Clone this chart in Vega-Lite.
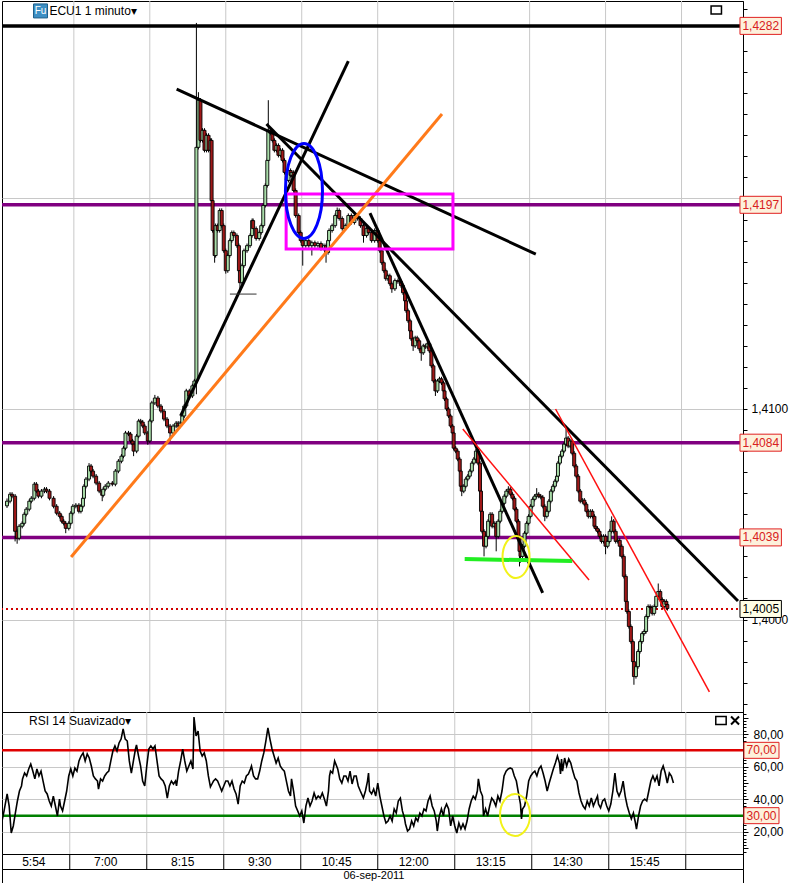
{
"$schema": "https://vega.github.io/schema/vega-lite/v6.json",
"padding": 0,
"spacing": 0,
"bounds": "flush",
"background": "white",
"config": {"view": {"stroke": "#000000", "strokeWidth": 1}, "font": "Liberation Sans", "axis": {"labelFont": "Liberation Sans", "labelFontSize": 12, "labelColor": "#000000", "domainColor": "#000000", "tickColor": "#000000", "labelOverlap": false, "labelFlush": false}},
"datasets": {
"grid": [{"t":66},{"t":141},{"t":216},{"t":291},{"t":366},{"t":441},{"t":516},{"t":591},{"t":666}],
"timeLabels": [{"t":31,"label":"5:54"},{"t":101,"label":"7:00"},{"t":176,"label":"8:15"},{"t":251,"label":"9:30"},{"t":326,"label":"10:45"},{"t":401,"label":"12:00"},{"t":476,"label":"13:15"},{"t":551,"label":"14:30"},{"t":626,"label":"15:45"}],
"levels": [{"p":1.4282,"label":"1,4282"},{"p":1.4197,"label":"1,4197"},{"p":1.4084,"label":"1,4084"},{"p":1.4039,"label":"1,4039"}],
"lastPrice": [{"p":1.4005,"label":"1,4005"}],
"trends": [
{"name":"res","t1":167.5,"p1":1.4252,"t2":522.1,"p2":1.41736},
{"name":"long","t1":256.2,"p1":1.42354,"t2":721.75,"p2":1.40088},
{"name":"up","t1":171.4,"p1":1.40967,"t2":337.0,"p2":1.42653},
{"name":"steep","t1":358.4,"p1":1.41931,"t2":528.9,"p2":1.40126},
{"name":"orange","t1":63.3,"p1":1.40297,"t2":429.5,"p2":1.42401},
{"name":"red1","t1":450.0,"p1":1.40905,"t2":574.7,"p2":1.40188},
{"name":"red2","t1":541.6,"p1":1.41,"t2":693.5,"p2":1.39656},
{"name":"green","t1":451.9,"p1":1.40287,"t2":558.1,"p2":1.40278},
{"name":"small","t1":220.1,"p1":1.41546,"t2":246.4,"p2":1.41546}],
"box": [{"t1":275.6,"p1":1.42021,"t2":440.3,"p2":1.4176}],
"blueEllipse": [{"t":293.2,"p":1.42036}],
"yellowMain": [{"t":502.6,"p":1.40297}],
"yellowRsi": [{"t":499.7,"v":30.4}],
"rsiLevels": [{"v":70,"label":"70,00"},{"v":30,"label":"30,00"}],
"candles": [
{"t":0,"o":1.4054,"h":1.40575,"l":1.4053,"c":1.40562},
{"t":3,"o":1.40562,"h":1.40605,"l":1.40552,"c":1.40595},
{"t":5,"o":1.40595,"h":1.40605,"l":1.40576,"c":1.40586},
{"t":8,"o":1.40586,"h":1.40596,"l":1.40371,"c":1.40419},
{"t":10,"o":1.40419,"h":1.40429,"l":1.4036,"c":1.40386},
{"t":12,"o":1.40386,"h":1.40453,"l":1.40376,"c":1.40443},
{"t":15,"o":1.40443,"h":1.40467,"l":1.40433,"c":1.40457},
{"t":17,"o":1.40457,"h":1.4051,"l":1.40447,"c":1.405},
{"t":19,"o":1.405,"h":1.40534,"l":1.4049,"c":1.40524},
{"t":22,"o":1.40524,"h":1.40572,"l":1.40514,"c":1.40562},
{"t":24,"o":1.40562,"h":1.40586,"l":1.40552,"c":1.40576},
{"t":27,"o":1.40576,"h":1.40653,"l":1.40566,"c":1.40643},
{"t":29,"o":1.40643,"h":1.40653,"l":1.406,"c":1.4061},
{"t":31,"o":1.4061,"h":1.4062,"l":1.40576,"c":1.40586},
{"t":34,"o":1.40586,"h":1.4062,"l":1.40576,"c":1.4061},
{"t":37,"o":1.4061,"h":1.40629,"l":1.406,"c":1.40619},
{"t":39,"o":1.40619,"h":1.40629,"l":1.406,"c":1.4061},
{"t":42,"o":1.4061,"h":1.4062,"l":1.40566,"c":1.40576},
{"t":46,"o":1.40576,"h":1.40586,"l":1.40528,"c":1.40538},
{"t":49,"o":1.40538,"h":1.40548,"l":1.40495,"c":1.40505},
{"t":52,"o":1.40505,"h":1.40515,"l":1.4048,"c":1.4049},
{"t":54,"o":1.4049,"h":1.405,"l":1.40457,"c":1.40467},
{"t":56,"o":1.40467,"h":1.40477,"l":1.40447,"c":1.40457},
{"t":58,"o":1.40457,"h":1.40467,"l":1.4041,"c":1.40433},
{"t":61,"o":1.40433,"h":1.40467,"l":1.40423,"c":1.40457},
{"t":63,"o":1.40457,"h":1.40515,"l":1.40447,"c":1.40505},
{"t":65,"o":1.40505,"h":1.40548,"l":1.40495,"c":1.40538},
{"t":68,"o":1.40538,"h":1.40553,"l":1.40528,"c":1.40543},
{"t":71,"o":1.40543,"h":1.40553,"l":1.40504,"c":1.40514},
{"t":73,"o":1.40514,"h":1.40548,"l":1.40504,"c":1.40538},
{"t":75,"o":1.40538,"h":1.40586,"l":1.40528,"c":1.40576},
{"t":76,"o":1.40576,"h":1.40643,"l":1.40566,"c":1.40633},
{"t":78,"o":1.40633,"h":1.40677,"l":1.40623,"c":1.40667},
{"t":81,"o":1.40667,"h":1.40743,"l":1.40657,"c":1.40729},
{"t":83,"o":1.40729,"h":1.40739,"l":1.40695,"c":1.40705},
{"t":85,"o":1.40705,"h":1.40715,"l":1.40671,"c":1.40681},
{"t":88,"o":1.40681,"h":1.40691,"l":1.40638,"c":1.40648},
{"t":91,"o":1.40648,"h":1.40658,"l":1.406,"c":1.4061},
{"t":94,"o":1.4061,"h":1.4062,"l":1.40562,"c":1.4059},
{"t":95,"o":1.4059,"h":1.40629,"l":1.4058,"c":1.40619},
{"t":97,"o":1.40619,"h":1.40643,"l":1.40609,"c":1.40633},
{"t":100,"o":1.40633,"h":1.40658,"l":1.40623,"c":1.40648},
{"t":104,"o":1.40648,"h":1.40658,"l":1.40633,"c":1.40643},
{"t":107,"o":1.40643,"h":1.40715,"l":1.40633,"c":1.40705},
{"t":110,"o":1.40705,"h":1.40762,"l":1.40695,"c":1.40752},
{"t":113,"o":1.40752,"h":1.40786,"l":1.40742,"c":1.40776},
{"t":115,"o":1.40776,"h":1.40824,"l":1.40766,"c":1.40814},
{"t":117,"o":1.40814,"h":1.40896,"l":1.40804,"c":1.40886},
{"t":120,"o":1.40886,"h":1.40896,"l":1.40871,"c":1.40881},
{"t":122,"o":1.40881,"h":1.40891,"l":1.40838,"c":1.40848},
{"t":124,"o":1.40848,"h":1.40858,"l":1.40823,"c":1.40833},
{"t":125,"o":1.40833,"h":1.40843,"l":1.40776,"c":1.408},
{"t":128,"o":1.408,"h":1.40881,"l":1.4079,"c":1.40871},
{"t":130,"o":1.40871,"h":1.40953,"l":1.40861,"c":1.40943},
{"t":132,"o":1.40943,"h":1.40953,"l":1.40928,"c":1.40938},
{"t":134,"o":1.40938,"h":1.40948,"l":1.40909,"c":1.40919},
{"t":136,"o":1.40919,"h":1.40929,"l":1.40876,"c":1.40886},
{"t":139,"o":1.40886,"h":1.40896,"l":1.4083,"c":1.40848},
{"t":141,"o":1.40848,"h":1.40953,"l":1.40838,"c":1.40943},
{"t":143,"o":1.40943,"h":1.41039,"l":1.40933,"c":1.41029},
{"t":146,"o":1.41029,"h":1.41067,"l":1.41019,"c":1.41052},
{"t":149,"o":1.41052,"h":1.41062,"l":1.41004,"c":1.41014},
{"t":152,"o":1.41014,"h":1.41024,"l":1.4098,"c":1.4099},
{"t":155,"o":1.4099,"h":1.41,"l":1.40942,"c":1.40952},
{"t":158,"o":1.40952,"h":1.40962,"l":1.40909,"c":1.40919},
{"t":161,"o":1.40919,"h":1.40929,"l":1.40848,"c":1.40886},
{"t":164,"o":1.40886,"h":1.40929,"l":1.40876,"c":1.40919},
{"t":167,"o":1.40919,"h":1.40943,"l":1.40909,"c":1.40933},
{"t":169,"o":1.40933,"h":1.40943,"l":1.40909,"c":1.40919},
{"t":171,"o":1.40919,"h":1.40943,"l":1.40909,"c":1.40933},
{"t":173,"o":1.40933,"h":1.40977,"l":1.40923,"c":1.40967},
{"t":175,"o":1.40967,"h":1.41024,"l":1.40957,"c":1.41014},
{"t":177,"o":1.41014,"h":1.41096,"l":1.41004,"c":1.41086},
{"t":180,"o":1.41086,"h":1.41096,"l":1.41052,"c":1.41062},
{"t":183,"o":1.41062,"h":1.4112,"l":1.41052,"c":1.4111},
{"t":185,"o":1.4111,"h":1.41143,"l":1.411,"c":1.41133},
{"t":187,"o":1.41133,"h":1.42834,"l":1.4107,"c":1.42243},
{"t":189,"o":1.42243,"h":1.42505,"l":1.42233,"c":1.42467},
{"t":191,"o":1.42467,"h":1.42477,"l":1.42266,"c":1.42276},
{"t":193,"o":1.42276,"h":1.42334,"l":1.42266,"c":1.42324},
{"t":195,"o":1.42324,"h":1.42334,"l":1.42219,"c":1.42229},
{"t":197,"o":1.42229,"h":1.4231,"l":1.42219,"c":1.423},
{"t":199,"o":1.423,"h":1.4231,"l":1.42219,"c":1.42229},
{"t":201,"o":1.42229,"h":1.42286,"l":1.42219,"c":1.42276},
{"t":202,"o":1.42276,"h":1.42286,"l":1.4198,"c":1.4199},
{"t":203,"o":1.4199,"h":1.42,"l":1.41838,"c":1.41848},
{"t":205,"o":1.41848,"h":1.41858,"l":1.41695,"c":1.41729},
{"t":206,"o":1.41729,"h":1.41881,"l":1.41719,"c":1.41871},
{"t":208,"o":1.41871,"h":1.41881,"l":1.41838,"c":1.41848},
{"t":210,"o":1.41848,"h":1.41953,"l":1.41838,"c":1.41943},
{"t":212,"o":1.41943,"h":1.41953,"l":1.41861,"c":1.41871},
{"t":214,"o":1.41871,"h":1.41881,"l":1.41742,"c":1.41752},
{"t":216,"o":1.41752,"h":1.41762,"l":1.41643,"c":1.41657},
{"t":218,"o":1.41657,"h":1.41739,"l":1.41647,"c":1.41729},
{"t":220,"o":1.41729,"h":1.4181,"l":1.41719,"c":1.418},
{"t":222,"o":1.418,"h":1.41848,"l":1.4179,"c":1.41838},
{"t":224,"o":1.41838,"h":1.41848,"l":1.41814,"c":1.41824},
{"t":227,"o":1.41824,"h":1.41834,"l":1.41766,"c":1.41776},
{"t":229,"o":1.41776,"h":1.41786,"l":1.41647,"c":1.41657},
{"t":230,"o":1.41657,"h":1.41667,"l":1.41562,"c":1.416},
{"t":232,"o":1.416,"h":1.41691,"l":1.4159,"c":1.41681},
{"t":234,"o":1.41681,"h":1.41762,"l":1.41671,"c":1.41752},
{"t":237,"o":1.41752,"h":1.41786,"l":1.41742,"c":1.41776},
{"t":240,"o":1.41776,"h":1.41834,"l":1.41766,"c":1.41824},
{"t":242,"o":1.41824,"h":1.41905,"l":1.41814,"c":1.41895},
{"t":243,"o":1.41895,"h":1.41905,"l":1.41847,"c":1.41857},
{"t":246,"o":1.41857,"h":1.41867,"l":1.418,"c":1.4181},
{"t":249,"o":1.4181,"h":1.41848,"l":1.418,"c":1.41838},
{"t":251,"o":1.41838,"h":1.41881,"l":1.41828,"c":1.41871},
{"t":253,"o":1.41871,"h":1.41977,"l":1.41861,"c":1.41967},
{"t":255,"o":1.41967,"h":1.42072,"l":1.41957,"c":1.42062},
{"t":257,"o":1.42062,"h":1.42191,"l":1.42052,"c":1.42181},
{"t":258,"o":1.42181,"h":1.42467,"l":1.42171,"c":1.42324},
{"t":260,"o":1.42324,"h":1.4234,"l":1.423,"c":1.4231},
{"t":262,"o":1.4231,"h":1.4232,"l":1.42266,"c":1.42276},
{"t":264,"o":1.42276,"h":1.42286,"l":1.42219,"c":1.42229},
{"t":266,"o":1.42229,"h":1.42262,"l":1.42219,"c":1.42252},
{"t":268,"o":1.42252,"h":1.42262,"l":1.42195,"c":1.42205},
{"t":270,"o":1.42205,"h":1.42239,"l":1.42195,"c":1.42229},
{"t":272,"o":1.42229,"h":1.42239,"l":1.42171,"c":1.42181},
{"t":274,"o":1.42181,"h":1.42191,"l":1.42114,"c":1.42124},
{"t":276,"o":1.42124,"h":1.42134,"l":1.42076,"c":1.42086},
{"t":278,"o":1.42086,"h":1.42143,"l":1.42076,"c":1.42133},
{"t":280,"o":1.42133,"h":1.42143,"l":1.421,"c":1.4211},
{"t":281,"o":1.4211,"h":1.42134,"l":1.421,"c":1.42124},
{"t":283,"o":1.42124,"h":1.42134,"l":1.42028,"c":1.42038},
{"t":285,"o":1.42038,"h":1.42048,"l":1.41909,"c":1.41919},
{"t":288,"o":1.41919,"h":1.41929,"l":1.41828,"c":1.41838},
{"t":290,"o":1.41838,"h":1.41848,"l":1.4179,"c":1.418},
{"t":292,"o":1.418,"h":1.4181,"l":1.41681,"c":1.41776},
{"t":295,"o":1.41776,"h":1.4181,"l":1.41766,"c":1.418},
{"t":298,"o":1.418,"h":1.4181,"l":1.41766,"c":1.41776},
{"t":301,"o":1.41776,"h":1.418,"l":1.41729,"c":1.4179},
{"t":304,"o":1.4179,"h":1.418,"l":1.41766,"c":1.41776},
{"t":307,"o":1.41776,"h":1.41796,"l":1.41766,"c":1.41786},
{"t":310,"o":1.41786,"h":1.41796,"l":1.41752,"c":1.41762},
{"t":313,"o":1.41762,"h":1.41786,"l":1.41752,"c":1.41776},
{"t":315,"o":1.41776,"h":1.41786,"l":1.41695,"c":1.41743},
{"t":317,"o":1.41743,"h":1.4181,"l":1.41733,"c":1.418},
{"t":318,"o":1.418,"h":1.41858,"l":1.4179,"c":1.41848},
{"t":321,"o":1.41848,"h":1.41881,"l":1.41838,"c":1.41871},
{"t":324,"o":1.41871,"h":1.41929,"l":1.41861,"c":1.41919},
{"t":326,"o":1.41919,"h":1.41957,"l":1.41909,"c":1.41943},
{"t":328,"o":1.41943,"h":1.41953,"l":1.41895,"c":1.41905},
{"t":331,"o":1.41905,"h":1.41915,"l":1.41847,"c":1.41857},
{"t":334,"o":1.41857,"h":1.41881,"l":1.41847,"c":1.41871},
{"t":337,"o":1.41871,"h":1.41929,"l":1.41861,"c":1.41919},
{"t":340,"o":1.41919,"h":1.41929,"l":1.41876,"c":1.41886},
{"t":343,"o":1.41886,"h":1.41929,"l":1.41876,"c":1.41919},
{"t":346,"o":1.41919,"h":1.41929,"l":1.41895,"c":1.41905},
{"t":349,"o":1.41905,"h":1.41915,"l":1.41861,"c":1.41871},
{"t":352,"o":1.41871,"h":1.41881,"l":1.4179,"c":1.41824},
{"t":355,"o":1.41824,"h":1.41867,"l":1.41814,"c":1.41857},
{"t":357,"o":1.41857,"h":1.41867,"l":1.41828,"c":1.41838},
{"t":360,"o":1.41838,"h":1.41848,"l":1.4179,"c":1.418},
{"t":363,"o":1.418,"h":1.41858,"l":1.4179,"c":1.41848},
{"t":366,"o":1.41848,"h":1.41858,"l":1.4179,"c":1.418},
{"t":368,"o":1.418,"h":1.4181,"l":1.41742,"c":1.41752},
{"t":370,"o":1.41752,"h":1.41762,"l":1.41685,"c":1.41695},
{"t":372,"o":1.41695,"h":1.41705,"l":1.41647,"c":1.41657},
{"t":374,"o":1.41657,"h":1.41667,"l":1.41609,"c":1.41619},
{"t":376,"o":1.41619,"h":1.41643,"l":1.41609,"c":1.41633},
{"t":378,"o":1.41633,"h":1.41643,"l":1.41585,"c":1.41595},
{"t":380,"o":1.41595,"h":1.41605,"l":1.41552,"c":1.41571},
{"t":383,"o":1.41571,"h":1.4162,"l":1.41561,"c":1.4161},
{"t":386,"o":1.4161,"h":1.4162,"l":1.41595,"c":1.41605},
{"t":389,"o":1.41605,"h":1.41615,"l":1.41576,"c":1.41586},
{"t":391,"o":1.41586,"h":1.41596,"l":1.41542,"c":1.41552},
{"t":393,"o":1.41552,"h":1.41562,"l":1.41504,"c":1.41514},
{"t":394,"o":1.41514,"h":1.41524,"l":1.41457,"c":1.41467},
{"t":396,"o":1.41467,"h":1.41477,"l":1.41409,"c":1.41419},
{"t":398,"o":1.41419,"h":1.41429,"l":1.41361,"c":1.41371},
{"t":399,"o":1.41371,"h":1.41381,"l":1.41323,"c":1.41333},
{"t":401,"o":1.41333,"h":1.41343,"l":1.41276,"c":1.413},
{"t":403,"o":1.413,"h":1.41348,"l":1.4129,"c":1.41338},
{"t":405,"o":1.41338,"h":1.41348,"l":1.41314,"c":1.41324},
{"t":407,"o":1.41324,"h":1.41334,"l":1.41276,"c":1.41286},
{"t":409,"o":1.41286,"h":1.41296,"l":1.41229,"c":1.41267},
{"t":411,"o":1.41267,"h":1.4131,"l":1.41257,"c":1.413},
{"t":413,"o":1.413,"h":1.4131,"l":1.41285,"c":1.41295},
{"t":415,"o":1.41295,"h":1.4132,"l":1.41285,"c":1.4131},
{"t":417,"o":1.4131,"h":1.4132,"l":1.41266,"c":1.41276},
{"t":419,"o":1.41276,"h":1.41286,"l":1.41195,"c":1.41205},
{"t":421,"o":1.41205,"h":1.41215,"l":1.41123,"c":1.41133},
{"t":423,"o":1.41133,"h":1.41143,"l":1.41062,"c":1.41086},
{"t":425,"o":1.41086,"h":1.41143,"l":1.41076,"c":1.41133},
{"t":427,"o":1.41133,"h":1.41153,"l":1.41123,"c":1.41143},
{"t":429,"o":1.41143,"h":1.41153,"l":1.41114,"c":1.41124},
{"t":431,"o":1.41124,"h":1.41134,"l":1.41076,"c":1.41086},
{"t":432,"o":1.41086,"h":1.41096,"l":1.41038,"c":1.41048},
{"t":434,"o":1.41048,"h":1.41058,"l":1.4099,"c":1.41},
{"t":436,"o":1.41,"h":1.4101,"l":1.40957,"c":1.40967},
{"t":438,"o":1.40967,"h":1.40977,"l":1.40909,"c":1.40919},
{"t":440,"o":1.40919,"h":1.40929,"l":1.40876,"c":1.40886},
{"t":441,"o":1.40886,"h":1.40896,"l":1.40804,"c":1.40814},
{"t":443,"o":1.40814,"h":1.40824,"l":1.4079,"c":1.408},
{"t":445,"o":1.408,"h":1.4081,"l":1.40752,"c":1.40762},
{"t":447,"o":1.40762,"h":1.40772,"l":1.40695,"c":1.40705},
{"t":448,"o":1.40705,"h":1.40715,"l":1.40623,"c":1.40633},
{"t":449,"o":1.40633,"h":1.40643,"l":1.40586,"c":1.4061},
{"t":451,"o":1.4061,"h":1.40643,"l":1.406,"c":1.40633},
{"t":453,"o":1.40633,"h":1.40677,"l":1.40623,"c":1.40667},
{"t":455,"o":1.40667,"h":1.40691,"l":1.40657,"c":1.40681},
{"t":457,"o":1.40681,"h":1.40715,"l":1.40671,"c":1.40705},
{"t":459,"o":1.40705,"h":1.40753,"l":1.40695,"c":1.40743},
{"t":461,"o":1.40743,"h":1.40772,"l":1.40733,"c":1.40762},
{"t":463,"o":1.40762,"h":1.4081,"l":1.40752,"c":1.408},
{"t":465,"o":1.408,"h":1.4081,"l":1.40733,"c":1.40743},
{"t":467,"o":1.40743,"h":1.40753,"l":1.406,"c":1.4061},
{"t":468,"o":1.4061,"h":1.4062,"l":1.40504,"c":1.40514},
{"t":469,"o":1.40514,"h":1.40524,"l":1.40409,"c":1.40419},
{"t":471,"o":1.40419,"h":1.40429,"l":1.403,"c":1.40348},
{"t":473,"o":1.40348,"h":1.40405,"l":1.40338,"c":1.40395},
{"t":475,"o":1.40395,"h":1.40477,"l":1.40385,"c":1.40467},
{"t":477,"o":1.40467,"h":1.4051,"l":1.40457,"c":1.405},
{"t":479,"o":1.405,"h":1.4051,"l":1.40433,"c":1.40443},
{"t":481,"o":1.40443,"h":1.40467,"l":1.40433,"c":1.40457},
{"t":483,"o":1.40457,"h":1.40467,"l":1.40324,"c":1.40395},
{"t":485,"o":1.40395,"h":1.40477,"l":1.40385,"c":1.40467},
{"t":487,"o":1.40467,"h":1.40524,"l":1.40457,"c":1.40514},
{"t":489,"o":1.40514,"h":1.40562,"l":1.40504,"c":1.40552},
{"t":491,"o":1.40552,"h":1.40596,"l":1.40542,"c":1.40586},
{"t":493,"o":1.40586,"h":1.4062,"l":1.40576,"c":1.4061},
{"t":495,"o":1.4061,"h":1.40633,"l":1.406,"c":1.40619},
{"t":497,"o":1.40619,"h":1.40629,"l":1.40585,"c":1.40595},
{"t":499,"o":1.40595,"h":1.40605,"l":1.40566,"c":1.40576},
{"t":501,"o":1.40576,"h":1.40586,"l":1.40514,"c":1.40524},
{"t":503,"o":1.40524,"h":1.40534,"l":1.40457,"c":1.40467},
{"t":505,"o":1.40467,"h":1.40477,"l":1.40385,"c":1.40395},
{"t":506,"o":1.40395,"h":1.40405,"l":1.40252,"c":1.40324},
{"t":507,"o":1.40324,"h":1.40334,"l":1.4027,"c":1.403},
{"t":509,"o":1.403,"h":1.40358,"l":1.4029,"c":1.40348},
{"t":511,"o":1.40348,"h":1.4042,"l":1.40338,"c":1.4041},
{"t":513,"o":1.4041,"h":1.40467,"l":1.404,"c":1.40457},
{"t":515,"o":1.40457,"h":1.405,"l":1.40447,"c":1.4049},
{"t":517,"o":1.4049,"h":1.40548,"l":1.4048,"c":1.40538},
{"t":519,"o":1.40538,"h":1.40581,"l":1.40528,"c":1.40571},
{"t":521,"o":1.40571,"h":1.40596,"l":1.40561,"c":1.40586},
{"t":523,"o":1.40586,"h":1.40624,"l":1.40576,"c":1.40595},
{"t":525,"o":1.40595,"h":1.40605,"l":1.40576,"c":1.40586},
{"t":527,"o":1.40586,"h":1.40596,"l":1.40571,"c":1.40581},
{"t":529,"o":1.40581,"h":1.40591,"l":1.40528,"c":1.40538},
{"t":531,"o":1.40538,"h":1.40548,"l":1.40467,"c":1.4049},
{"t":533,"o":1.4049,"h":1.40524,"l":1.4048,"c":1.40514},
{"t":535,"o":1.40514,"h":1.40572,"l":1.40504,"c":1.40562},
{"t":537,"o":1.40562,"h":1.4062,"l":1.40552,"c":1.4061},
{"t":539,"o":1.4061,"h":1.40643,"l":1.406,"c":1.40633},
{"t":541,"o":1.40633,"h":1.40667,"l":1.40623,"c":1.40657},
{"t":543,"o":1.40657,"h":1.40691,"l":1.40647,"c":1.40681},
{"t":544,"o":1.40681,"h":1.40753,"l":1.40671,"c":1.40743},
{"t":546,"o":1.40743,"h":1.40786,"l":1.40733,"c":1.40776},
{"t":548,"o":1.40776,"h":1.4081,"l":1.40766,"c":1.408},
{"t":550,"o":1.408,"h":1.40843,"l":1.4079,"c":1.40833},
{"t":552,"o":1.40833,"h":1.40905,"l":1.40823,"c":1.40862},
{"t":554,"o":1.40862,"h":1.40872,"l":1.40814,"c":1.40824},
{"t":556,"o":1.40824,"h":1.40858,"l":1.40814,"c":1.40848},
{"t":558,"o":1.40848,"h":1.40858,"l":1.4078,"c":1.4079},
{"t":560,"o":1.4079,"h":1.408,"l":1.40719,"c":1.40729},
{"t":562,"o":1.40729,"h":1.40739,"l":1.40671,"c":1.40681},
{"t":564,"o":1.40681,"h":1.40691,"l":1.406,"c":1.4061},
{"t":566,"o":1.4061,"h":1.4062,"l":1.40552,"c":1.40562},
{"t":568,"o":1.40562,"h":1.40577,"l":1.40552,"c":1.40567},
{"t":570,"o":1.40567,"h":1.40577,"l":1.40538,"c":1.40548},
{"t":572,"o":1.40548,"h":1.40558,"l":1.40504,"c":1.40514},
{"t":574,"o":1.40514,"h":1.40524,"l":1.4048,"c":1.4049},
{"t":576,"o":1.4049,"h":1.40524,"l":1.4048,"c":1.40514},
{"t":578,"o":1.40514,"h":1.40524,"l":1.4048,"c":1.4049},
{"t":580,"o":1.4049,"h":1.405,"l":1.40433,"c":1.40443},
{"t":581,"o":1.40443,"h":1.40453,"l":1.40423,"c":1.40433},
{"t":583,"o":1.40433,"h":1.40443,"l":1.40409,"c":1.40419},
{"t":585,"o":1.40419,"h":1.40429,"l":1.40385,"c":1.40395},
{"t":587,"o":1.40395,"h":1.40405,"l":1.40361,"c":1.40371},
{"t":589,"o":1.40371,"h":1.40405,"l":1.40361,"c":1.40395},
{"t":591,"o":1.40395,"h":1.40405,"l":1.4031,"c":1.40348},
{"t":593,"o":1.40348,"h":1.40381,"l":1.40338,"c":1.40371},
{"t":595,"o":1.40371,"h":1.40429,"l":1.40361,"c":1.40419},
{"t":597,"o":1.40419,"h":1.4049,"l":1.40409,"c":1.40467},
{"t":599,"o":1.40467,"h":1.40477,"l":1.40409,"c":1.40419},
{"t":601,"o":1.40419,"h":1.40429,"l":1.40361,"c":1.40371},
{"t":603,"o":1.40371,"h":1.40386,"l":1.40361,"c":1.40376},
{"t":605,"o":1.40376,"h":1.40386,"l":1.403,"c":1.40348},
{"t":607,"o":1.40348,"h":1.40358,"l":1.4029,"c":1.403},
{"t":609,"o":1.403,"h":1.4031,"l":1.40195,"c":1.40205},
{"t":611,"o":1.40205,"h":1.40215,"l":1.40076,"c":1.40086},
{"t":612,"o":1.40086,"h":1.40096,"l":1.40028,"c":1.40038},
{"t":614,"o":1.40038,"h":1.40048,"l":1.39957,"c":1.39967},
{"t":616,"o":1.39967,"h":1.39977,"l":1.39885,"c":1.39895},
{"t":618,"o":1.39895,"h":1.39905,"l":1.3979,"c":1.398},
{"t":619,"o":1.398,"h":1.3981,"l":1.3969,"c":1.39729},
{"t":621,"o":1.39729,"h":1.39786,"l":1.39719,"c":1.39776},
{"t":623,"o":1.39776,"h":1.39858,"l":1.39766,"c":1.39848},
{"t":625,"o":1.39848,"h":1.39905,"l":1.39838,"c":1.39895},
{"t":627,"o":1.39895,"h":1.39943,"l":1.39885,"c":1.39933},
{"t":629,"o":1.39933,"h":1.39953,"l":1.39923,"c":1.39943},
{"t":631,"o":1.39943,"h":1.40024,"l":1.39933,"c":1.40014},
{"t":633,"o":1.40014,"h":1.40072,"l":1.40004,"c":1.40062},
{"t":635,"o":1.40062,"h":1.40072,"l":1.40047,"c":1.40057},
{"t":637,"o":1.40057,"h":1.40067,"l":1.40019,"c":1.40029},
{"t":639,"o":1.40029,"h":1.40072,"l":1.40019,"c":1.40062},
{"t":641,"o":1.40062,"h":1.4012,"l":1.40052,"c":1.4011},
{"t":643,"o":1.4011,"h":1.40171,"l":1.401,"c":1.40133},
{"t":645,"o":1.40133,"h":1.40143,"l":1.40085,"c":1.40095},
{"t":647,"o":1.40095,"h":1.40105,"l":1.40052,"c":1.40062},
{"t":649,"o":1.40062,"h":1.40096,"l":1.40052,"c":1.40086},
{"t":651,"o":1.40086,"h":1.40096,"l":1.40061,"c":1.40071},
{"t":652,"o":1.40071,"h":1.40081,"l":1.40042,"c":1.40052}],
"rsi": [
{"t":0,"v":26.7},{"t":2,"v":32.9},{"t":5,"v":43.3},{"t":7,"v":35.9},{"t":9,"v":19.4},{"t":11,"v":23.7},{"t":13,"v":31.6},{"t":15,"v":39.0},{"t":17,"v":45.1},{"t":19,"v":48.2},
{"t":20,"v":52.5},{"t":22,"v":56.1},{"t":24,"v":54.3},{"t":26,"v":58.6},{"t":28,"v":61.6},{"t":30,"v":57.3},{"t":32,"v":52.5},{"t":34,"v":58.6},{"t":36,"v":54.3},{"t":38,"v":57.3},
{"t":40,"v":51.2},{"t":42,"v":45.1},{"t":44,"v":43.3},{"t":46,"v":39.0},{"t":48,"v":35.9},{"t":50,"v":42.0},{"t":52,"v":35.9},{"t":54,"v":29.8},{"t":56,"v":40.2},{"t":57,"v":35.9},
{"t":59,"v":32.9},{"t":61,"v":39.0},{"t":63,"v":45.1},{"t":65,"v":54.3},{"t":67,"v":58.6},{"t":69,"v":54.3},{"t":71,"v":59.2},{"t":73,"v":57.3},{"t":75,"v":63.5},{"t":77,"v":66.5},
{"t":79,"v":68.4},{"t":81,"v":63.5},{"t":83,"v":67.8},{"t":85,"v":65.3},{"t":87,"v":60.4},{"t":89,"v":54.3},{"t":91,"v":52.5},{"t":93,"v":51.2},{"t":94,"v":46.3},{"t":96,"v":52.5},
{"t":98,"v":51.2},{"t":100,"v":54.3},{"t":102,"v":56.1},{"t":104,"v":57.3},{"t":106,"v":63.5},{"t":108,"v":69.6},{"t":110,"v":72.7},{"t":112,"v":69.6},{"t":114,"v":74.5},{"t":116,"v":76.9},
{"t":118,"v":83.1},{"t":120,"v":76.9},{"t":122,"v":75.7},{"t":124,"v":63.5},{"t":126,"v":56.1},{"t":128,"v":63.5},{"t":130,"v":70.8},{"t":131,"v":73.3},{"t":133,"v":66.5},{"t":135,"v":60.4},
{"t":137,"v":51.2},{"t":139,"v":48.2},{"t":141,"v":60.4},{"t":143,"v":70.8},{"t":145,"v":72.7},{"t":147,"v":70.8},{"t":149,"v":72.7},{"t":151,"v":63.5},{"t":153,"v":54.3},{"t":155,"v":52.5},
{"t":157,"v":51.2},{"t":159,"v":48.2},{"t":161,"v":40.8},{"t":163,"v":48.2},{"t":165,"v":51.2},{"t":167,"v":49.4},{"t":169,"v":51.2},{"t":170,"v":48.2},{"t":172,"v":57.3},{"t":174,"v":63.5},
{"t":176,"v":70.8},{"t":178,"v":63.5},{"t":180,"v":57.3},{"t":182,"v":60.4},{"t":184,"v":63.5},{"t":186,"v":58.6},{"t":187,"v":90.4},{"t":189,"v":78.8},{"t":191,"v":81.8},{"t":193,"v":69.6},
{"t":195,"v":66.5},{"t":197,"v":68.4},{"t":199,"v":63.5},{"t":201,"v":54.3},{"t":203,"v":47.6},{"t":205,"v":50.0},{"t":206,"v":51.2},{"t":208,"v":52.5},{"t":210,"v":51.2},{"t":212,"v":48.2},
{"t":214,"v":45.1},{"t":216,"v":48.2},{"t":218,"v":51.2},{"t":220,"v":51.2},{"t":222,"v":48.2},{"t":224,"v":51.2},{"t":226,"v":46.3},{"t":228,"v":43.3},{"t":230,"v":37.1},{"t":232,"v":48.2},
{"t":234,"v":51.2},{"t":236,"v":50.0},{"t":238,"v":54.3},{"t":240,"v":55.5},{"t":242,"v":58.6},{"t":243,"v":60.4},{"t":245,"v":54.3},{"t":247,"v":52.5},{"t":249,"v":52.5},{"t":251,"v":57.3},
{"t":253,"v":63.5},{"t":255,"v":68.4},{"t":257,"v":75.7},{"t":259,"v":83.7},{"t":261,"v":76.9},{"t":263,"v":70.8},{"t":265,"v":66.5},{"t":267,"v":62.2},{"t":269,"v":65.3},{"t":271,"v":60.4},
{"t":273,"v":58.6},{"t":275,"v":57.3},{"t":277,"v":51.2},{"t":279,"v":45.1},{"t":281,"v":42.0},{"t":282,"v":52.5},{"t":284,"v":45.1},{"t":286,"v":35.9},{"t":288,"v":32.9},{"t":290,"v":29.8},
{"t":292,"v":32.9},{"t":294,"v":25.5},{"t":296,"v":35.9},{"t":298,"v":40.8},{"t":300,"v":35.9},{"t":302,"v":39.0},{"t":304,"v":43.9},{"t":306,"v":40.2},{"t":308,"v":42.0},{"t":310,"v":40.8},
{"t":312,"v":43.9},{"t":314,"v":40.2},{"t":316,"v":35.9},{"t":318,"v":45.1},{"t":319,"v":54.3},{"t":320,"v":57.3},{"t":322,"v":56.1},{"t":324,"v":63.5},{"t":327,"v":58.6},{"t":329,"v":52.5},
{"t":331,"v":50.0},{"t":333,"v":54.3},{"t":335,"v":54.3},{"t":337,"v":51.2},{"t":339,"v":57.3},{"t":341,"v":49.4},{"t":343,"v":54.3},{"t":345,"v":54.3},{"t":347,"v":48.2},{"t":349,"v":45.1},
{"t":352,"v":40.8},{"t":354,"v":45.1},{"t":356,"v":51.2},{"t":357,"v":56.1},{"t":358,"v":45.1},{"t":360,"v":43.3},{"t":362,"v":46.3},{"t":364,"v":42.0},{"t":366,"v":50.0},{"t":368,"v":42.0},
{"t":370,"v":35.9},{"t":372,"v":29.8},{"t":374,"v":25.5},{"t":376,"v":26.7},{"t":378,"v":29.8},{"t":380,"v":26.7},{"t":382,"v":34.1},{"t":384,"v":31.6},{"t":386,"v":39.0},{"t":388,"v":40.8},
{"t":390,"v":32.9},{"t":392,"v":28.6},{"t":393,"v":24.9},{"t":395,"v":20.6},{"t":397,"v":21.8},{"t":399,"v":26.7},{"t":401,"v":23.7},{"t":403,"v":28.6},{"t":405,"v":26.7},{"t":407,"v":31.6},
{"t":409,"v":29.8},{"t":411,"v":34.1},{"t":413,"v":32.9},{"t":415,"v":39.0},{"t":417,"v":42.0},{"t":419,"v":35.9},{"t":421,"v":32.9},{"t":423,"v":26.7},{"t":424,"v":20.6},{"t":426,"v":29.8},
{"t":428,"v":34.1},{"t":430,"v":29.8},{"t":431,"v":34.1},{"t":433,"v":37.1},{"t":435,"v":34.1},{"t":437,"v":23.7},{"t":439,"v":29.8},{"t":441,"v":23.7},{"t":443,"v":19.4},{"t":445,"v":25.5},
{"t":447,"v":21.8},{"t":449,"v":24.9},{"t":451,"v":21.8},{"t":453,"v":26.7},{"t":455,"v":34.1},{"t":457,"v":39.0},{"t":459,"v":42.0},{"t":461,"v":40.2},{"t":463,"v":45.1},{"t":464,"v":52.5},
{"t":466,"v":45.1},{"t":468,"v":42.0},{"t":469,"v":29.8},{"t":471,"v":34.1},{"t":473,"v":29.8},{"t":475,"v":35.9},{"t":477,"v":40.8},{"t":479,"v":39.0},{"t":481,"v":35.9},{"t":483,"v":42.0},
{"t":485,"v":39.0},{"t":487,"v":45.1},{"t":489,"v":54.3},{"t":491,"v":57.3},{"t":493,"v":58.6},{"t":495,"v":59.2},{"t":497,"v":58.6},{"t":499,"v":54.3},{"t":501,"v":51.2},{"t":503,"v":43.9},
{"t":505,"v":37.1},{"t":506,"v":28.0},{"t":507,"v":34.1},{"t":509,"v":35.9},{"t":511,"v":42.0},{"t":513,"v":51.2},{"t":515,"v":54.3},{"t":517,"v":56.1},{"t":519,"v":57.3},{"t":521,"v":54.3},
{"t":523,"v":58.6},{"t":525,"v":60.4},{"t":527,"v":56.1},{"t":529,"v":51.2},{"t":531,"v":45.1},{"t":533,"v":50.0},{"t":535,"v":54.3},{"t":537,"v":58.6},{"t":539,"v":62.2},{"t":541,"v":66.5},
{"t":543,"v":62.2},{"t":544,"v":55.5},{"t":545,"v":64.7},{"t":546,"v":57.3},{"t":548,"v":65.3},{"t":550,"v":60.4},{"t":552,"v":64.7},{"t":554,"v":62.2},{"t":556,"v":57.3},{"t":558,"v":53.1},
{"t":560,"v":51.2},{"t":562,"v":43.9},{"t":564,"v":39.0},{"t":566,"v":35.9},{"t":568,"v":34.1},{"t":570,"v":39.0},{"t":572,"v":35.9},{"t":574,"v":40.8},{"t":576,"v":35.9},{"t":578,"v":39.0},
{"t":580,"v":42.0},{"t":581,"v":37.1},{"t":583,"v":34.7},{"t":585,"v":39.0},{"t":587,"v":40.2},{"t":589,"v":35.9},{"t":591,"v":32.9},{"t":593,"v":37.1},{"t":595,"v":45.1},{"t":597,"v":56.1},
{"t":599,"v":45.1},{"t":601,"v":42.0},{"t":603,"v":45.1},{"t":605,"v":51.2},{"t":607,"v":42.0},{"t":609,"v":35.9},{"t":611,"v":31.6},{"t":613,"v":28.0},{"t":615,"v":31.6},{"t":617,"v":25.5},
{"t":618,"v":21.8},{"t":620,"v":29.8},{"t":622,"v":35.9},{"t":624,"v":39.0},{"t":626,"v":40.2},{"t":628,"v":39.0},{"t":630,"v":45.1},{"t":632,"v":51.2},{"t":634,"v":54.3},{"t":636,"v":51.2},
{"t":638,"v":54.3},{"t":640,"v":48.2},{"t":642,"v":57.3},{"t":644,"v":60.4},{"t":646,"v":56.1},{"t":648,"v":50.0},{"t":650,"v":56.1},{"t":652,"v":54.3},{"t":654,"v":50.0}]
},
"vconcat": [
{
"width": 741, "height": 711,
"layer": [
{"data": {"name": "grid"}, "mark": {"type": "rule", "color": "#c8c8c8", "strokeWidth": 1},
 "encoding": {"x": {"field": "t", "type": "quantitative", "scale": {"domain": [0, 721.75], "nice": false, "zero": false}, "axis": null}}},
{"data": {"name": "levels"}, "mark": {"type": "rule", "strokeWidth": 3.5, "clip": true},
 "encoding": {
  "y": {"field": "p", "type": "quantitative", "scale": {"domain": [1.395606, 1.429382], "nice": false, "zero": false},
   "axis": {"orient": "right", "title": null, "tickCount": 1000, "values": [1.396,1.397,1.398,1.399,1.4,1.401,1.402,1.403,1.404,1.405,1.406,1.407,1.408,1.409,1.41,1.411,1.412,1.413,1.414,1.415,1.416,1.417,1.418,1.419,1.42,1.421,1.422,1.423,1.424,1.425,1.426,1.427,1.428,1.429],
    "labelExpr": "(abs(datum.value*100 - round(datum.value*100)) < 0.01 && datum.value < 1.415) ? replace(format(datum.value, '.4f'), '.', ',') : ''",
    "labelOverlap": false, "labelBound": false,
    "grid": true, "gridColor": "#c8c8c8", "gridOpacity": {"condition": {"test": "abs(datum.value*100 - round(datum.value*100)) < 0.01", "value": 1}, "value": 0},
    "tickSize": 4, "labelPadding": 4, "labelAlign": "left", "labelBaseline": "middle", "domainColor": "#000000", "zindex": 0}},
  "color": {"condition": {"test": "datum.p > 1.425", "value": "#000000"}, "value": "#800080"}}},
{"data": {"name": "lastPrice"}, "mark": {"type": "rule", "color": "#d00000", "strokeWidth": 2, "strokeDash": [2, 3], "clip": true},
 "encoding": {"y": {"field": "p", "type": "quantitative", "scale": {"domain": [1.395606, 1.429382], "nice": false, "zero": false}}}},
{"data": {"name": "candles"}, "mark": {"type": "rule", "color": "#000000", "strokeWidth": 1, "clip": true},
 "encoding": {"x": {"field": "t", "type": "quantitative", "scale": {"domain": [0, 721.75], "nice": false, "zero": false}, "axis": null},
  "y": {"field": "l", "type": "quantitative", "scale": {"domain": [1.395606, 1.429382], "nice": false, "zero": false}},
  "y2": {"field": "h"}}},
{"data": {"name": "candles"}, "mark": {"type": "bar", "width": 3, "stroke": "#000000", "strokeWidth": 0.9, "clip": true, "orient": "vertical"},
 "encoding": {"x": {"field": "t", "type": "quantitative", "scale": {"domain": [0, 721.75], "nice": false, "zero": false}, "axis": null},
  "y": {"field": "o", "type": "quantitative", "scale": {"domain": [1.395606, 1.429382], "nice": false, "zero": false}},
  "y2": {"field": "c"},
  "fill": {"condition": {"test": "datum.c >= datum.o", "value": "#a8dca8"}, "value": "#a01818"}}},
{"data": {"name": "trends"}, "transform": [{"filter": "indexof(['res','long','up','steep'], datum.name) >= 0"}],
 "mark": {"type": "rule", "color": "#000000", "strokeWidth": 3, "clip": true},
 "encoding": {"x": {"field": "t1", "type": "quantitative", "scale": {"domain": [0, 721.75], "nice": false, "zero": false}, "axis": null}, "x2": {"field": "t2"},
  "y": {"field": "p1", "type": "quantitative", "scale": {"domain": [1.395606, 1.429382], "nice": false, "zero": false}}, "y2": {"field": "p2"}}},
{"data": {"name": "trends"}, "transform": [{"filter": "datum.name == 'small'"}],
 "mark": {"type": "rule", "color": "#333333", "strokeWidth": 1, "clip": true},
 "encoding": {"x": {"field": "t1", "type": "quantitative", "scale": {"domain": [0, 721.75], "nice": false, "zero": false}, "axis": null}, "x2": {"field": "t2"},
  "y": {"field": "p1", "type": "quantitative", "scale": {"domain": [1.395606, 1.429382], "nice": false, "zero": false}}, "y2": {"field": "p2"}}},
{"data": {"name": "trends"}, "transform": [{"filter": "datum.name == 'orange'"}],
 "mark": {"type": "rule", "color": "#ff7a1a", "strokeWidth": 3, "clip": true},
 "encoding": {"x": {"field": "t1", "type": "quantitative", "scale": {"domain": [0, 721.75], "nice": false, "zero": false}, "axis": null}, "x2": {"field": "t2"},
  "y": {"field": "p1", "type": "quantitative", "scale": {"domain": [1.395606, 1.429382], "nice": false, "zero": false}}, "y2": {"field": "p2"}}},
{"data": {"name": "trends"}, "transform": [{"filter": "datum.name == 'red1' || datum.name == 'red2'"}],
 "mark": {"type": "rule", "color": "#ff1010", "strokeWidth": 1.5, "clip": true},
 "encoding": {"x": {"field": "t1", "type": "quantitative", "scale": {"domain": [0, 721.75], "nice": false, "zero": false}, "axis": null}, "x2": {"field": "t2"},
  "y": {"field": "p1", "type": "quantitative", "scale": {"domain": [1.395606, 1.429382], "nice": false, "zero": false}}, "y2": {"field": "p2"}}},
{"data": {"name": "trends"}, "transform": [{"filter": "datum.name == 'green'"}],
 "mark": {"type": "rule", "color": "#22ee22", "strokeWidth": 4, "clip": true},
 "encoding": {"x": {"field": "t1", "type": "quantitative", "scale": {"domain": [0, 721.75], "nice": false, "zero": false}, "axis": null}, "x2": {"field": "t2"},
  "y": {"field": "p1", "type": "quantitative", "scale": {"domain": [1.395606, 1.429382], "nice": false, "zero": false}}, "y2": {"field": "p2"}}},
{"data": {"name": "box"}, "mark": {"type": "rect", "fillOpacity": 0, "stroke": "#ff00ff", "strokeWidth": 3, "clip": true},
 "encoding": {"x": {"field": "t1", "type": "quantitative", "scale": {"domain": [0, 721.75], "nice": false, "zero": false}, "axis": null}, "x2": {"field": "t2"},
  "y": {"field": "p1", "type": "quantitative", "scale": {"domain": [1.395606, 1.429382], "nice": false, "zero": false}}, "y2": {"field": "p2"}}},
{"data": {"name": "blueEllipse"}, "mark": {"type": "point", "shape": "M0,-1C0.2154,-1,0.39,-0.5523,0.39,0C0.39,0.5523,0.2154,1,0,1C-0.2154,1,-0.39,0.5523,-0.39,0C-0.39,-0.5523,-0.2154,-1,0,-1Z", "size": 9025, "filled": false, "color": "#0000ff", "strokeWidth": 3, "opacity": 1},
 "encoding": {"x": {"field": "t", "type": "quantitative", "scale": {"domain": [0, 721.75], "nice": false, "zero": false}, "axis": null},
  "y": {"field": "p", "type": "quantitative", "scale": {"domain": [1.395606, 1.429382], "nice": false, "zero": false}}}},
{"data": {"name": "yellowMain"}, "mark": {"type": "point", "shape": "M0,-1C0.3551,-1,0.643,-0.5523,0.643,0C0.643,0.5523,0.3551,1,0,1C-0.3551,1,-0.643,0.5523,-0.643,0C-0.643,-0.5523,-0.3551,-1,0,-1Z", "size": 1764, "filled": false, "color": "#f2f21a", "strokeWidth": 2, "opacity": 1},
 "encoding": {"x": {"field": "t", "type": "quantitative", "scale": {"domain": [0, 721.75], "nice": false, "zero": false}, "axis": null},
  "y": {"field": "p", "type": "quantitative", "scale": {"domain": [1.395606, 1.429382], "nice": false, "zero": false}}}},
{"data": {"name": "levels"}, "mark": {"type": "rect", "fill": "#fdf1dc", "stroke": "#e02020", "strokeWidth": 1, "yOffset": -8.5, "y2Offset": 8.5},
 "encoding": {"x": {"datum": 723.7, "type": "quantitative", "scale": {"domain": [0, 721.75], "nice": false, "zero": false}, "axis": null}, "x2": {"datum": 764.6},
  "y": {"field": "p", "type": "quantitative", "scale": {"domain": [1.395606, 1.429382], "nice": false, "zero": false}}, "y2": {"field": "p"}}},
{"data": {"name": "levels"}, "mark": {"type": "text", "color": "#d82020", "fontSize": 12, "font": "Liberation Sans", "align": "center", "baseline": "middle"},
 "encoding": {"x": {"datum": 744.2, "type": "quantitative", "scale": {"domain": [0, 721.75], "nice": false, "zero": false}, "axis": null},
  "y": {"field": "p", "type": "quantitative", "scale": {"domain": [1.395606, 1.429382], "nice": false, "zero": false}}, "text": {"field": "label"}}},
{"data": {"name": "lastPrice"}, "mark": {"type": "rect", "fill": "#ffffe6", "stroke": "#000000", "strokeWidth": 1, "yOffset": -8.5, "y2Offset": 8.5},
 "encoding": {"x": {"datum": 723.7, "type": "quantitative", "scale": {"domain": [0, 721.75], "nice": false, "zero": false}, "axis": null}, "x2": {"datum": 764.6},
  "y": {"field": "p", "type": "quantitative", "scale": {"domain": [1.395606, 1.429382], "nice": false, "zero": false}}, "y2": {"field": "p"}}},
{"data": {"name": "lastPrice"}, "mark": {"type": "text", "color": "#000000", "fontSize": 12, "font": "Liberation Sans", "align": "center", "baseline": "middle"},
 "encoding": {"x": {"datum": 744.2, "type": "quantitative", "scale": {"domain": [0, 721.75], "nice": false, "zero": false}, "axis": null},
  "y": {"field": "p", "type": "quantitative", "scale": {"domain": [1.395606, 1.429382], "nice": false, "zero": false}}, "text": {"field": "label"}}},
{"data": {"values": [{"label": "Fu"}]}, "mark": {"type": "point", "shape": "square", "size": 196, "filled": true, "color": "#3d8fc4", "stroke": "#1d5f8a", "strokeWidth": 1, "opacity": 1},
 "encoding": {"x": {"datum": 33.1, "type": "quantitative", "scale": {"domain": [0, 721.75], "nice": false, "zero": false}, "axis": null},
  "y": {"datum": 1.42891, "type": "quantitative", "scale": {"domain": [1.395606, 1.429382], "nice": false, "zero": false}}}},
{"data": {"values": [{"label": "Fu"}]}, "mark": {"type": "text", "color": "#ffffff", "fontSize": 10, "font": "Liberation Sans", "align": "center", "baseline": "middle"},
 "encoding": {"x": {"datum": 33.1, "type": "quantitative", "scale": {"domain": [0, 721.75], "nice": false, "zero": false}, "axis": null},
  "y": {"datum": 1.42891, "type": "quantitative", "scale": {"domain": [1.395606, 1.429382], "nice": false, "zero": false}}, "text": {"field": "label"}}},
{"data": {"values": [{"label": "ECU1 1 minuto\u25be"}]}, "mark": {"type": "text", "color": "#000000", "fontSize": 12, "font": "Liberation Sans", "align": "left", "baseline": "middle"},
 "encoding": {"x": {"datum": 41.9, "type": "quantitative", "scale": {"domain": [0, 721.75], "nice": false, "zero": false}, "axis": null},
  "y": {"datum": 1.42891, "type": "quantitative", "scale": {"domain": [1.395606, 1.429382], "nice": false, "zero": false}}, "text": {"field": "label"}}},
{"data": {"values": [{"label": "window"}]}, "mark": {"type": "point", "shape": "M-1.3,-1H1.3V1H-1.3Z", "size": 64, "filled": false, "color": "#000000", "strokeWidth": 1.5, "opacity": 1},
 "encoding": {"x": {"datum": 700.3, "type": "quantitative", "scale": {"domain": [0, 721.75], "nice": false, "zero": false}, "axis": null},
  "y": {"datum": 1.42896, "type": "quantitative", "scale": {"domain": [1.395606, 1.429382], "nice": false, "zero": false}}}}
]
},
{
"width": 741, "height": 142,
"layer": [
{"data": {"name": "grid"}, "mark": {"type": "rule", "color": "#c8c8c8", "strokeWidth": 1},
 "encoding": {"x": {"field": "t", "type": "quantitative", "scale": {"domain": [0, 721.75], "nice": false, "zero": false}, "axis": null}}},
{"data": {"name": "rsiLevels"}, "mark": {"type": "rule", "strokeWidth": 2.5},
 "encoding": {
  "y": {"field": "v", "type": "quantitative", "scale": {"domain": [6.53, 93.47], "nice": false, "zero": false},
   "axis": {"orient": "right", "title": null, "tickCount": 1000, "values": [8,10,12,14,16,18,20,22,24,26,28,30,32,34,36,38,40,42,44,46,48,50,52,54,56,58,60,62,64,66,68,70,72,74,76,78,80,82,84,86,88,90,92],
    "labelExpr": "(abs(datum.value/20 - round(datum.value/20)) < 0.001) ? replace(format(datum.value, '.2f'), '.', ',') : ''",
    "labelOverlap": false, "labelBound": false,
    "grid": true, "gridColor": "#c8c8c8", "gridOpacity": {"condition": {"test": "abs(datum.value/20 - round(datum.value/20)) < 0.001", "value": 1}, "value": 0},
    "tickSize": {"condition": {"test": "abs(datum.value/10 - round(datum.value/10)) < 0.001", "value": 5}, "value": 3},
    "labelPadding": 5, "labelAlign": "left", "labelBaseline": "middle", "domainColor": "#000000", "zindex": 0}},
  "color": {"condition": {"test": "datum.v > 50", "value": "#e00000"}, "value": "#008000"}}},
{"data": {"name": "rsi"}, "mark": {"type": "line", "color": "#000000", "strokeWidth": 1.6, "clip": true},
 "encoding": {"x": {"field": "t", "type": "quantitative", "scale": {"domain": [0, 721.75], "nice": false, "zero": false}, "axis": null},
  "y": {"field": "v", "type": "quantitative", "scale": {"domain": [6.53, 93.47], "nice": false, "zero": false}}}},
{"data": {"name": "yellowRsi"}, "mark": {"type": "point", "shape": "M0,-1C0.3943,-1,0.714,-0.5523,0.714,0C0.714,0.5523,0.3943,1,0,1C-0.3943,1,-0.714,0.5523,-0.714,0C-0.714,-0.5523,-0.3943,-1,0,-1Z", "size": 1764, "filled": false, "color": "#f2f21a", "strokeWidth": 2, "opacity": 1},
 "encoding": {"x": {"field": "t", "type": "quantitative", "scale": {"domain": [0, 721.75], "nice": false, "zero": false}, "axis": null},
  "y": {"field": "v", "type": "quantitative", "scale": {"domain": [6.53, 93.47], "nice": false, "zero": false}}}},
{"data": {"name": "rsiLevels"}, "mark": {"type": "rect", "fill": "#fdf1dc", "stroke": "#e02020", "strokeWidth": 1, "yOffset": -8, "y2Offset": 8},
 "encoding": {"x": {"datum": 722.7, "type": "quantitative", "scale": {"domain": [0, 721.75], "nice": false, "zero": false}, "axis": null}, "x2": {"datum": 756.8},
  "y": {"field": "v", "type": "quantitative", "scale": {"domain": [6.53, 93.47], "nice": false, "zero": false}}, "y2": {"field": "v"}}},
{"data": {"name": "rsiLevels"}, "mark": {"type": "text", "color": "#d82020", "fontSize": 12, "font": "Liberation Sans", "align": "center", "baseline": "middle"},
 "encoding": {"x": {"datum": 739.8, "type": "quantitative", "scale": {"domain": [0, 721.75], "nice": false, "zero": false}, "axis": null},
  "y": {"field": "v", "type": "quantitative", "scale": {"domain": [6.53, 93.47], "nice": false, "zero": false}}, "text": {"field": "label"}}},
{"data": {"values": [{"label": "RSI 14 Suavizado\u25be"}]}, "mark": {"type": "text", "color": "#000000", "fontSize": 12, "font": "Liberation Sans", "align": "left", "baseline": "middle"},
 "encoding": {"x": {"datum": 26.3, "type": "quantitative", "scale": {"domain": [0, 721.75], "nice": false, "zero": false}, "axis": null},
  "y": {"datum": 87.96, "type": "quantitative", "scale": {"domain": [6.53, 93.47], "nice": false, "zero": false}}, "text": {"field": "label"}}},
{"data": {"values": [{"label": "window"}]}, "mark": {"type": "point", "shape": "M-1.3,-1H1.3V1H-1.3Z", "size": 64, "filled": false, "color": "#000000", "strokeWidth": 1.5, "opacity": 1},
 "encoding": {"x": {"datum": 700.3, "type": "quantitative", "scale": {"domain": [0, 721.75], "nice": false, "zero": false}, "axis": null},
  "y": {"datum": 88.3, "type": "quantitative", "scale": {"domain": [6.53, 93.47], "nice": false, "zero": false}}}},
{"data": {"values": [{"label": "close"}]}, "mark": {"type": "point", "shape": "M-1,-1L1,1M1,-1L-1,1", "size": 64, "filled": false, "color": "#000000", "strokeWidth": 2, "opacity": 1},
 "encoding": {"x": {"datum": 714.0, "type": "quantitative", "scale": {"domain": [0, 721.75], "nice": false, "zero": false}, "axis": null},
  "y": {"datum": 88.3, "type": "quantitative", "scale": {"domain": [6.53, 93.47], "nice": false, "zero": false}}}}
]
},
{
"width": 741, "height": 15,
"layer": [
{"data": {"name": "grid"}, "mark": {"type": "rule", "color": "#000000", "strokeWidth": 1},
 "encoding": {"x": {"field": "t", "type": "quantitative", "scale": {"domain": [0, 721.75], "nice": false, "zero": false}, "axis": null}}},
{"data": {"name": "timeLabels"}, "mark": {"type": "text", "color": "#000000", "fontSize": 12, "font": "Liberation Sans", "align": "center", "baseline": "middle"},
 "encoding": {"x": {"field": "t", "type": "quantitative", "scale": {"domain": [0, 721.75], "nice": false, "zero": false}, "axis": null}, "text": {"field": "label"}}}
]
},
{
"width": 741, "height": 14,
"data": {"values": [{"t": 362.3, "label": "06-sep-2011"}]},
"mark": {"type": "text", "color": "#000000", "fontSize": 11, "font": "Liberation Sans", "align": "center", "baseline": "middle"},
"encoding": {"x": {"field": "t", "type": "quantitative", "scale": {"domain": [0, 721.75], "nice": false, "zero": false}, "axis": null}, "text": {"field": "label"}}
}
]
}
